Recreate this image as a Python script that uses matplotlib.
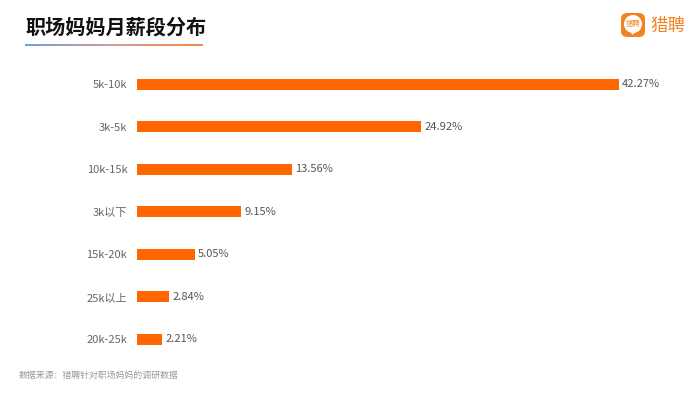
import matplotlib
matplotlib.use('Agg')
import matplotlib.pyplot as plt
import numpy as np
from matplotlib.colors import LinearSegmentedColormap
from matplotlib.patches import FancyBboxPatch, Polygon

plt.rcParams['font.family'] = ['Noto Sans CJK SC', 'DejaVu Sans']

categories = ['5k-10k', '3k-5k', '10k-15k', '3k以下', '15k-20k', '25k以上', '20k-25k']
shares = [42.27, 24.92, 13.56, 9.15, 5.05, 2.84, 2.21]

W, H = 700, 393
fig = plt.figure(figsize=(W / 100, H / 100), dpi=100, facecolor='white')


def px_axes(x0, y0, x1, y1):
    # pixel box with y measured from the top of the image
    return fig.add_axes([x0 / W, 1 - y1 / H, (x1 - x0) / W, (y1 - y0) / H])


ax = px_axes(137, 63, 707, 360.5)
ypos = np.arange(len(categories))
ax.barh(ypos, shares, height=0.26, color='#ff6600')
ax.set_xlim(0, 50)
ax.set_ylim(len(categories) - 0.5, -0.5)
ax.set_yticks(ypos)
ax.set_yticklabels(categories, fontsize=8, color='#666666')
ax.tick_params(axis='y', length=0, pad=7)
ax.set_xticks([])
for side in ax.spines.values():
    side.set_visible(False)
for y, v in zip(ypos, shares):
    ax.annotate('%.2f%%' % v, (v, y), xytext=(2.2, 0), textcoords='offset points',
                va='center', ha='left', fontsize=8, color='#555555')

# title and gradient rule
fig.text(25 / W, 1 - 27 / H, '职场妈妈月薪段分布', fontsize=14.5, fontweight='black',
         color='#111111', va='center', ha='left')
rule = px_axes(25, 44, 203, 46)
rule_cmap = LinearSegmentedColormap.from_list('rule', ['#6f9fe0', '#d89a9a', '#f08a40'])
rule.imshow(np.linspace(0, 1, 256).reshape(1, -1), aspect='auto', cmap=rule_cmap)
rule.axis('off')

# logo
logo = px_axes(615, 8, 650, 43)
logo.set_xlim(0, 35)
logo.set_ylim(35, 0)
logo.axis('off')
logo.add_patch(FancyBboxPatch((6, 5), 24, 24, boxstyle='round,pad=0,rounding_size=6',
                              fc='#f58220', ec='none'))
logo.add_patch(plt.Circle((18, 16), 9, fc='white', ec='none'))
logo.add_patch(Polygon([[16, 23], [22, 23], [17, 27]], fc='white', ec='none'))
logo.text(18, 16, '猎聘', fontsize=5.2, color='#f58220', ha='center', va='center')
fig.text(650 / W, 1 - 25.5 / H, '猎聘', fontsize=12.6, fontweight='medium', color='#f58220',
         va='center', ha='left')

fig.text(19 / W, 1 - 375 / H, '数据来源：猎聘针对职场妈妈的调研数据', fontsize=6.4,
         color='#999999', va='center', ha='left')

fig.savefig('out.png', dpi=100)
